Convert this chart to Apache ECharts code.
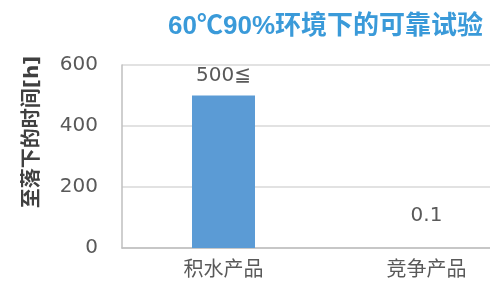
<!DOCTYPE html>
<html>
<head>
<meta charset="utf-8">
<script src="https://cdn.jsdelivr.net/npm/echarts@6/dist/echarts.min.js"></script>
<style>
  html, body { margin: 0; padding: 0; background: #fff; }
  #chart { width: 490px; height: 281px; }
</style>
</head>
<body>
<div id="chart"></div>
<script>
var categories = ['积水产品', '竞争产品']
var values = [500, 0.1]
var valueLabels = ['500≦', '0.1']
var labelGaps = [10, 22]
var yTicks = [0, 200, 400, 600]

var chart = echarts.init(document.getElementById('chart'))

var textFont = 'DejaVu Sans, Noto Sans CJK SC, sans-serif'

var barData = values.map(function (v, i) {
  return {
    value: v,
    label: { distance: labelGaps[i] }
  }
})

var option = {
  animation: false,
  title: {
    text: '60℃90%环境下的可靠试验',
    right: 2,
    top: 9,
    textStyle: {
      color: '#3a9ad9',
      fontSize: 26,
      fontWeight: 'bold',
      fontFamily: 'Liberation Sans, Noto Sans CJK SC, sans-serif'
    }
  },
  // plot area runs past the right edge, as in the cropped original
  grid: {
    left: 122,
    top: 65,
    height: 183,
    width: 406,
    outerBoundsMode: 'none'
  },
  graphic: [{
    type: 'text',
    x: 33,
    y: 132,
    rotation: Math.PI / 2,
    style: {
      text: '至落下的时间[h]',
      fill: '#404040',
      font: 'bold 20px ' + textFont,
      textAlign: 'center',
      textVerticalAlign: 'middle'
    }
  }],
  xAxis: {
    type: 'category',
    data: categories,
    axisTick: { show: false },
    axisLine: { lineStyle: { color: '#bfbfbf', width: 1.5 } },
    axisLabel: {
      color: '#595959',
      fontSize: 20,
      margin: 13,
      fontFamily: textFont
    }
  },
  yAxis: {
    type: 'value',
    min: yTicks[0],
    max: yTicks[yTicks.length - 1],
    interval: 200,
    axisLine: { show: true, lineStyle: { color: '#bfbfbf', width: 1.5 } },
    axisTick: { show: false },
    splitLine: { lineStyle: { color: '#d9d9d9', width: 1.5 } },
    axisLabel: {
      color: '#595959',
      fontSize: 20,
      margin: 24,
      fontFamily: textFont
    }
  },
  series: [{
    type: 'bar',
    data: barData,
    barWidth: 63,
    itemStyle: { color: '#5b9bd5' },
    label: {
      show: true,
      position: 'top',
      color: '#595959',
      fontSize: 20,
      fontFamily: textFont,
      formatter: function (p) {
        return valueLabels[p.dataIndex]
      }
    }
  }]
}

chart.setOption(option)
</script>
</body>
</html>
